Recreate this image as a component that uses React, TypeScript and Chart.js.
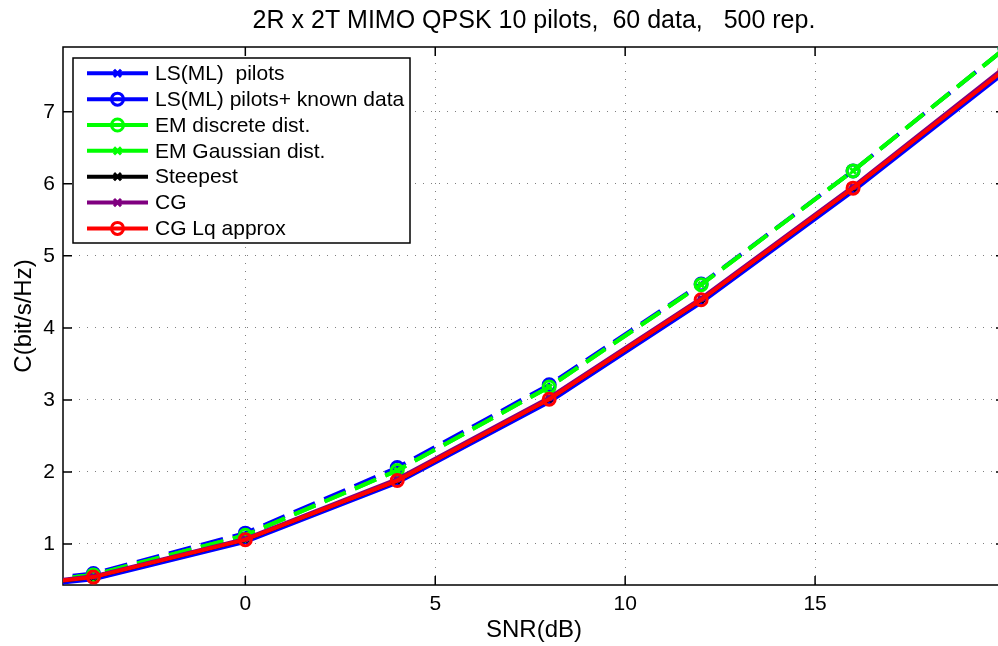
import React, { useEffect, useRef } from 'react';
import { Chart, registerables } from 'chart.js';

Chart.register(...registerables);

const TITLE = '2R x 2T MIMO QPSK 10 pilots,  60 data,   500 rep.';
const X_LABEL = 'SNR(dB)';
const Y_LABEL = 'C(bit/s/Hz)';

const snr = [-8, -4, 0, 4, 8, 12, 16, 20];
const xTicks = [0, 5, 10, 15];
const yTicks = [1, 2, 3, 4, 5, 6, 7];

const seriesNames = [
  'LS(ML)  pilots',
  'LS(ML) pilots+ known data',
  'EM discrete dist.',
  'EM Gaussian dist.',
  'Steepest',
  'CG',
  'CG Lq approx',
];

const lsPilots = [0.28, 0.51, 1.03, 1.85, 2.97, 4.35, 5.9, 7.55];
const lsKnownData = [0.36, 0.59, 1.15, 2.06, 3.21, 4.61, 6.18, 7.88];
const emDiscrete = [0.34, 0.57, 1.12, 2.02, 3.18, 4.6, 6.18, 7.88];
const emGaussian = [0.34, 0.57, 1.12, 2.02, 3.18, 4.6, 6.18, 7.88];
const steepest = [0.3, 0.54, 1.06, 1.88, 3.01, 4.39, 5.94, 7.6];
const cg = [0.31, 0.55, 1.07, 1.9, 3.03, 4.41, 5.96, 7.62];
const cgLq = [0.3, 0.54, 1.06, 1.88, 3.01, 4.39, 5.94, 7.59];

const seriesValues = [lsPilots, lsKnownData, emDiscrete, emGaussian, steepest, cg, cgLq];
const seriesColors = ['#0000ff', '#0000ff', '#00ff00', '#00ff00', '#000000', '#800080', '#ff0000'];
const seriesMarkers = ['crossRot', 'circle', 'circle', 'crossRot', 'crossRot', 'crossRot', 'circle'];
const seriesDashed = [false, true, true, true, false, false, false];

const FONT = 'Liberation Sans, Arial, Helvetica, sans-serif';

function drawMarker(ctx: CanvasRenderingContext2D, style: string, x: number, y: number, color: string) {
  ctx.save();
  ctx.strokeStyle = color;
  ctx.setLineDash([]);
  ctx.lineWidth = 3;
  if (style === 'circle') {
    ctx.beginPath();
    ctx.arc(x, y, 6, 0, Math.PI * 2);
    ctx.stroke();
  } else {
    const r = 5 * Math.SQRT1_2;
    ctx.beginPath();
    ctx.moveTo(x - r, y - r);
    ctx.lineTo(x + r, y + r);
    ctx.moveTo(x + r, y - r);
    ctx.lineTo(x - r, y + r);
    ctx.stroke();
  }
  ctx.restore();
}

const framePlugin = {
  id: 'matlabFrame',
  beforeDatasetsDraw(chart: any) {
    const { ctx, chartArea: a, scales } = chart;
    const xs = scales.x;
    const ys = scales.y;
    ctx.save();
    ctx.strokeStyle = '#000';
    ctx.lineWidth = 1.5;
    ctx.setLineDash([]);
    ctx.beginPath();
    ctx.moveTo(a.left, a.top);
    ctx.lineTo(a.right, a.top);
    ctx.lineTo(a.right, a.bottom);
    ctx.lineTo(a.left, a.bottom);
    ctx.closePath();
    for (const v of xTicks) {
      const px = xs.getPixelForValue(v);
      ctx.moveTo(px, a.bottom);
      ctx.lineTo(px, a.bottom - 9);
      ctx.moveTo(px, a.top);
      ctx.lineTo(px, a.top + 9);
    }
    for (const v of yTicks) {
      const py = ys.getPixelForValue(v);
      ctx.moveTo(a.left, py);
      ctx.lineTo(a.left + 9, py);
      ctx.moveTo(a.right, py);
      ctx.lineTo(a.right - 9, py);
    }
    ctx.stroke();
    ctx.restore();
  },
};

const legendPlugin = {
  id: 'matlabLegend',
  afterDraw(chart: any) {
    const { ctx } = chart;
    const left = 73;
    const top = 58;
    const w = 337;
    const h = 185;
    ctx.save();
    ctx.fillStyle = '#fff';
    ctx.fillRect(left, top, w, h);
    ctx.strokeStyle = '#000';
    ctx.lineWidth = 1.5;
    ctx.setLineDash([]);
    ctx.strokeRect(left, top, w, h);
    const rowStart = 73.3;
    const rowStep = 25.85;
    chart.data.datasets.forEach((ds: any, i: number) => {
      const y = rowStart + i * rowStep;
      ctx.strokeStyle = ds.borderColor;
      ctx.lineWidth = 4;
      ctx.setLineDash([]);
      ctx.beginPath();
      ctx.moveTo(87, y);
      ctx.lineTo(148, y);
      ctx.stroke();
      drawMarker(ctx, seriesMarkers[i], 117.5, y, ds.borderColor);
      ctx.fillStyle = '#000';
      ctx.font = `21px ${FONT}`;
      ctx.textBaseline = 'middle';
      ctx.textAlign = 'left';
      ctx.fillText(ds.label, 155, y + 1);
    });
    ctx.restore();
  },
};

export default function App() {
  const ref = useRef<HTMLCanvasElement | null>(null);

  useEffect(() => {
    if (!ref.current) return;
    const datasets = seriesNames.map((name, i) => ({
      label: name,
      data: snr.map((x, j) => ({ x, y: seriesValues[i][j] })),
      borderColor: seriesColors[i],
      backgroundColor: seriesColors[i],
      borderWidth: 4,
      borderDash: seriesDashed[i] ? [23, 10] : [],
      borderCapStyle: 'butt',
      pointStyle: seriesMarkers[i],
      pointRadius: seriesMarkers[i] === 'circle' ? 6 : 4,
      pointBorderWidth: 3,
      pointBorderColor: seriesColors[i],
      pointBackgroundColor: 'rgba(0,0,0,0)',
      fill: false,
      tension: 0,
      order: seriesNames.length - 1 - i,
    }));

    const chart = new Chart(ref.current, {
      type: 'line',
      data: { datasets } as any,
      options: {
        animation: false,
        responsive: false,
        events: [],
        layout: { padding: { left: 0, right: 3, top: 0, bottom: 0 } },
        plugins: {
          legend: { display: false },
          tooltip: { enabled: false },
          title: {
            display: true,
            text: TITLE,
            fullSize: false,
            color: '#000',
            font: { family: FONT, size: 25, weight: 'normal', lineHeight: 1.2 },
            padding: { top: 6, bottom: 11 },
          },
        },
        scales: {
          x: {
            type: 'linear',
            min: -4.8,
            max: 20,
            afterBuildTicks: (s: any) => {
              s.ticks = xTicks.map((v) => ({ value: v }));
            },
            afterFit: (s: any) => {
              s.height = 61;
            },
            ticks: {
              color: '#000',
              font: { family: FONT, size: 21 },
              padding: 7,
              maxRotation: 0,
              autoSkip: false,
            },
            grid: { color: 'rgba(0,0,0,0.5)', lineWidth: 1, drawTicks: false },
            border: { display: false, dash: [1, 7] },
            title: {
              display: true,
              text: X_LABEL,
              color: '#000',
              font: { family: FONT, size: 24, lineHeight: 1.2 },
              padding: { top: 0, bottom: 1 },
            },
          },
          y: {
            type: 'linear',
            min: 0.43,
            max: 7.9,
            afterBuildTicks: (s: any) => {
              s.ticks = yTicks.map((v) => ({ value: v }));
            },
            afterFit: (s: any) => {
              s.width = 63;
            },
            ticks: {
              color: '#000',
              font: { family: FONT, size: 21 },
              padding: 8,
              autoSkip: false,
            },
            grid: { color: 'rgba(0,0,0,0.5)', lineWidth: 1, drawTicks: false },
            border: { display: false, dash: [1, 7] },
            title: {
              display: true,
              text: Y_LABEL,
              color: '#000',
              font: { family: FONT, size: 24, lineHeight: 1.2 },
              padding: { top: 10, bottom: 0 },
            },
          },
        },
      } as any,
      plugins: [framePlugin, legendPlugin],
    });
    return () => chart.destroy();
  }, []);

  return (
    <div
      style={{
        position: 'fixed',
        left: 0,
        top: 0,
        width: 998,
        height: 646,
        overflow: 'hidden',
        background: '#fff',
      }}
    >
      <canvas ref={ref} width={1014} height={646} style={{ display: 'block' }} />
    </div>
  );
}
